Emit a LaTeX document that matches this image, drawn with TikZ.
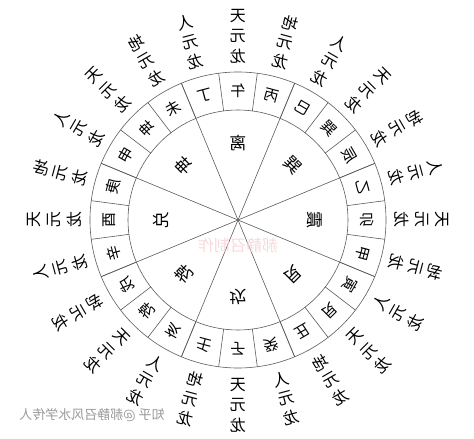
\documentclass[tikz,border=0pt]{standalone}
\usepackage{fontspec}
\usepackage{tikz}
\usepackage{xcolor}
\newfontfamily\cjk{Noto Sans CJK SC}
\definecolor{rule}{HTML}{5A5A5A}
\definecolor{mark}{HTML}{F6DADC}
\tikzstyle{ringline} = [draw=rule, line width=0.6pt]
\tikzstyle{shanlabel} = [font=\cjk\fontsize{15}{15}\selectfont, inner sep=0pt]
\tikzstyle{gualabel} = [font=\cjk\fontsize{17}{17}\selectfont, inner sep=0pt]
\tikzstyle{longlabel} = [font=\cjk\fontsize{16}{16}\selectfont, inner sep=0pt]
\tikzstyle{watermark} = [font=\cjk\fontsize{13}{13}\selectfont, text=black!40, inner sep=0pt]

\begin{document}
\begin{tikzpicture}
\useasboundingbox (-238pt,-219pt) rectangle (236pt,220pt);
% the whole plate is printed mirrored
\begin{scope}[xscale=-1, transform shape]
\draw[ringline] (0,0) circle (148pt);
\draw[ringline] (0,0) circle (110pt);
\foreach \i in {0,...,7}
  \draw[ringline] (0,0) -- (22.5+45*\i:148pt);
\foreach \i in {0,...,23}
  \draw[ringline] (7.5+15*\i:110pt) -- (7.5+15*\i:148pt);
% eight trigrams
\foreach \g [count=\j from 0, evaluate=\j as \b using 90+45*\j] in {离,巽,震,艮,坎,乾,兑,坤}
  \node[gualabel, rotate=\b-90] (gua\j) at (\b:77pt) {\g};
% 24 mountains and their dragons
\foreach \m/\d [count=\k from 0, evaluate=\k as \a using 90+15*\k] in
  {午/天,丙/地,巳/人,巽/天,辰/地,乙/人,卯/天,甲/地,寅/人,艮/天,丑/地,癸/人,
   子/天,壬/地,亥/人,乾/天,戌/地,辛/人,酉/天,庚/地,申/人,坤/天,未/地,丁/人}{
  \node[shanlabel, rotate=\a-90] (shan\k) at (\a:129pt) {\m};
  \pgfmathtruncatemacro\up{(\a<=195)||(\a>=345)}
  \ifnum\up=1
    \node[longlabel, rotate=\a-90] (long\k a) at (\a:204pt) {\d};
    \node[longlabel, rotate=\a-90] (long\k b) at (\a:184pt) {元};
    \node[longlabel, rotate=\a-90] (long\k c) at (\a:164pt) {龙};
  \else
    \node[longlabel, rotate=\a+90] (long\k a) at (\a:165pt) {\d};
    \node[longlabel, rotate=\a+90] (long\k b) at (\a:185pt) {元};
    \node[longlabel, rotate=\a+90] (long\k c) at (\a:205pt) {龙};
  \fi
}
\node[watermark, text=mark, font=\cjk\fontsize{16}{16}\selectfont] (mark) at (0pt,-25pt) {郝静召制作};
\node[watermark] (credit) at (146pt,-195pt) {知乎 @郝静召风水学传人};
\end{scope}
\end{tikzpicture}
\end{document}
